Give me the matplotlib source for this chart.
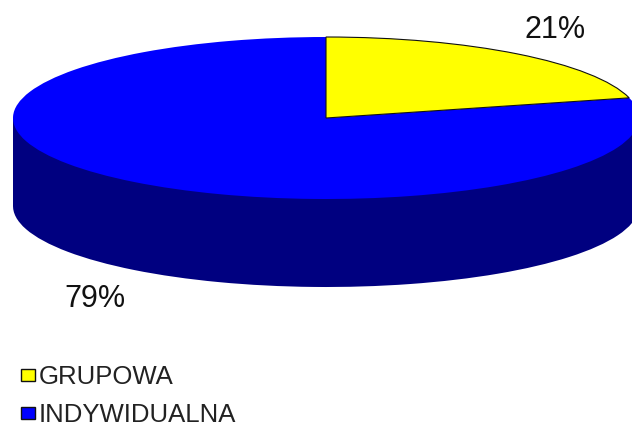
import matplotlib
matplotlib.use("Agg")
import matplotlib.pyplot as plt
from matplotlib.patches import Rectangle

plt.rcParams["font.family"] = "Liberation Sans"

# Udzial form
labels = ["GRUPOWA", "INDYWIDUALNA"]
values = [21, 79]
top_colors = ["#FFFF00", "#0000FF"]
side_color = "#000080"

W, H = 632, 427
cx, cy = 326, 119  # srodek elipsy [px]
rx, ry = 313, 81  # polosie [px]
depth = 88 / ry


def px(x, y):
    return (x - cx) / rx, (cy - y) / ry


fig = plt.figure(figsize=(W / 100, H / 100), dpi=100)
ax = fig.add_axes([0, 0, 1, 1])

# Bok "3D" - dolna elipsa i prostokat
ax.pie(values, colors=[side_color, side_color], startangle=90, counterclock=False,
       center=(0, -depth), radius=1, frame=True)
ax.add_patch(Rectangle((-1, -depth), 2, depth, color=side_color, lw=0))

# Gorna powierzchnia
wedges, _ = ax.pie(values, colors=top_colors, startangle=90, counterclock=False,
                   center=(0, 0), radius=1, frame=True)
wedges[0].set_edgecolor("#111111")
wedges[0].set_linewidth(0.8)
wedges[0].set_zorder(wedges[1].get_zorder() + 1)

ax.set_aspect("auto")
ax.set_xlim(px(0, 0)[0], px(W, 0)[0])
ax.set_ylim(px(0, H)[1], px(0, 0)[1])
ax.axis("off")

ax.text(*px(555, 30), f"{values[0]}%", fontsize=22, ha="center", va="center", color="#111111")
ax.text(*px(95, 299), f"{values[1]}%", fontsize=22, ha="center", va="center", color="#111111")

# Legenda
for name, color, y in zip(labels, top_colors, [384, 422]):
    ax.add_patch(Rectangle(px(21, y - 2), 14 / rx, 12 / ry, facecolor=color,
                           edgecolor="#111111", lw=1))
    ax.text(*px(39, y), name, fontsize=18.5, ha="left", va="baseline", color="#222222")

fig.savefig("out.png", dpi=100)
